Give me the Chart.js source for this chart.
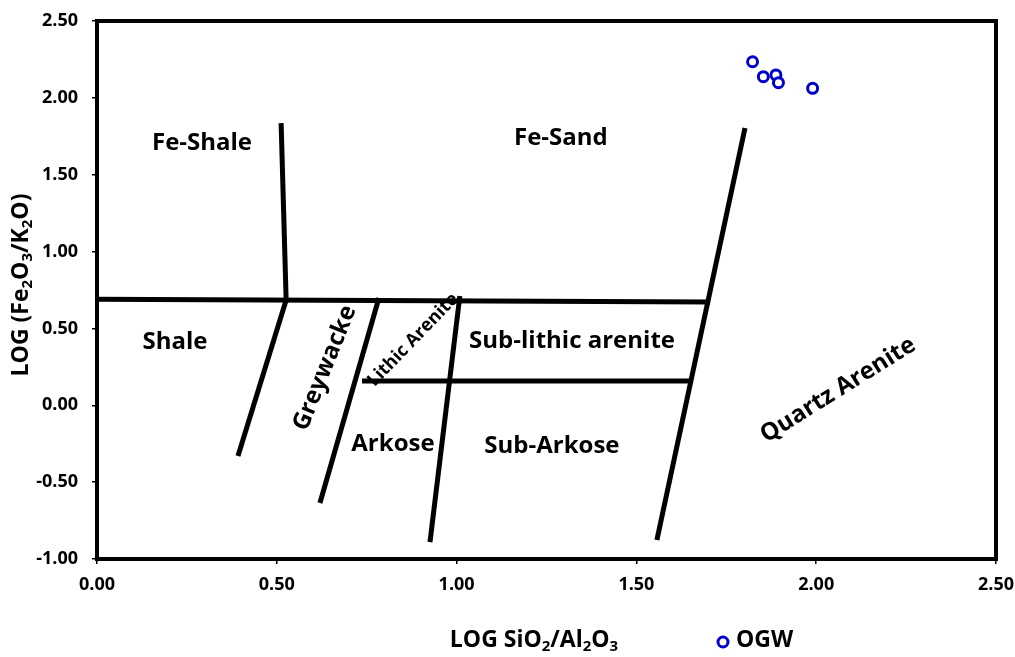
<!DOCTYPE html>
<html>
<head>
<meta charset="utf-8">
<script src="https://cdn.jsdelivr.net/npm/chart.js@4"></script>
<style>
  html, body { margin: 0; padding: 0; background: #fff; }
  #wrap { width: 1015px; height: 657px; }
</style>
</head>
<body>
<div id="wrap"><canvas id="chart" width="1015" height="657"></canvas></div>
<script>
// sample points (OGW)
const ogwX = [1.823, 1.853, 1.888, 1.895, 1.990];
const ogwY = [2.235, 2.138, 2.149, 2.099, 2.062];

// classification boundary lines, [x1, y1, x2, y2] in log units
const feShaleLine   = [0.512, 1.836, 0.526, 0.685];
const feLine        = [0.000, 0.690, 1.705, 0.672];
const shaleLine     = [0.526, 0.685, 0.392, -0.330];
const greywackeLine = [0.784, 0.698, 0.620, -0.636];
const lithicLine    = [1.009, 0.711, 0.926, -0.890];
const arkoseLine    = [0.737, 0.158, 1.649, 0.158];
const quartzLine    = [1.802, 1.804, 1.557, -0.877];
const boundaries = [feShaleLine, feLine, shaleLine, greywackeLine, lithicLine, arkoseLine, quartzLine];

// field names and where they sit (log units)
const fieldNames = ['Fe-Shale', 'Fe-Sand', 'Shale', 'Sub-lithic arenite', 'Quartz Arenite', 'Greywacke', 'Lithic Arenite', 'Arkose', 'Sub-Arkose'];
const fieldX = [0.292, 1.290, 0.217, 1.321, 2.061, 0.634, 0.879, 0.823, 1.265];
const fieldY = [1.706, 1.739, 0.412, 0.418, 0.099, 0.242, 0.425, -0.252, -0.265];
const fieldAngle = [0, 0, 0, 0, -32, -68, -46, 0, 0];
const fieldSize = [24, 24, 24, 24, 24, 24, 18, 24, 24];

const xTicks = [0, 0.5, 1, 1.5, 2, 2.5];
const yTicks = [-1, -0.5, 0, 0.5, 1, 1.5, 2, 2.5];

const FONT = '"Open Sans", Lato, sans-serif';

const lineSets = boundaries.map(b => ({
  type: 'scatter',
  data: [{ x: b[0], y: b[1] }, { x: b[2], y: b[3] }],
  showLine: true,
  borderColor: '#000',
  borderWidth: 5,
  pointRadius: 0,
  borderCapStyle: 'butt'
}));

// draws text pieces, some as subscripts, centred on cx
function drawRich(ctx, parts, cx, cy, size) {
  const sub = Math.round(size * 0.65);
  let total = 0;
  parts.forEach(p => {
    ctx.font = 'bold ' + (p.sub ? sub : size) + 'px ' + FONT;
    total += ctx.measureText(p.t).width;
  });
  let x = cx - total / 2;
  ctx.textAlign = 'left';
  ctx.textBaseline = 'middle';
  parts.forEach(p => {
    ctx.font = 'bold ' + (p.sub ? sub : size) + 'px ' + FONT;
    ctx.fillText(p.t, x, p.sub ? cy + size * 0.3 : cy);
    x += ctx.measureText(p.t).width;
  });
}

const decorations = {
  id: 'decorations',
  afterDatasetsDraw(chart) {
    const { ctx, chartArea: a, scales } = chart;
    ctx.save();
    ctx.fillStyle = '#000';
    // field names
    fieldNames.forEach((name, i) => {
      ctx.save();
      ctx.translate(scales.x.getPixelForValue(fieldX[i]), scales.y.getPixelForValue(fieldY[i]));
      ctx.rotate(fieldAngle[i] * Math.PI / 180);
      ctx.font = 'bold ' + fieldSize[i] + 'px ' + FONT;
      ctx.textAlign = 'center';
      ctx.textBaseline = 'middle';
      ctx.fillText(name, 0, 0);
      ctx.restore();
    });
    // frame
    ctx.strokeStyle = '#000';
    ctx.lineWidth = 4;
    ctx.strokeRect(a.left, a.top, a.right - a.left, a.bottom - a.top);
    // x title
    drawRich(ctx, [{ t: 'LOG SiO' }, { t: '2', sub: true }, { t: '/Al' }, { t: '2', sub: true }, { t: 'O' }, { t: '3', sub: true }], 534, 640, 23);
    // y title
    ctx.save();
    ctx.translate(21, 285);
    ctx.rotate(-Math.PI / 2);
    drawRich(ctx, [{ t: 'LOG (Fe' }, { t: '2', sub: true }, { t: 'O' }, { t: '3', sub: true }, { t: '/K' }, { t: '2', sub: true }, { t: 'O)' }], 0, 0, 23);
    ctx.restore();
    // legend
    ctx.beginPath();
    ctx.arc(723, 642, 5, 0, Math.PI * 2);
    ctx.strokeStyle = '#0000CC';
    ctx.lineWidth = 3;
    ctx.stroke();
    ctx.fillStyle = '#000';
    ctx.font = 'bold 23px ' + FONT;
    ctx.textAlign = 'left';
    ctx.textBaseline = 'middle';
    ctx.fillText('OGW', 736, 640);
    ctx.restore();
  }
};

new Chart(document.getElementById('chart'), {
  type: 'scatter',
  data: {
    datasets: [
      ...lineSets,
      {
        label: 'OGW',
        data: ogwX.map((x, i) => ({ x: x, y: ogwY[i] })),
        pointStyle: 'circle',
        pointRadius: 5,
        pointBorderWidth: 3,
        borderColor: '#0000CC',
        backgroundColor: '#fff',
        showLine: false
      }
    ]
  },
  options: {
    responsive: false,
    animation: false,
    layout: { padding: { left: 0, right: 19, top: 21, bottom: 0 } },
    plugins: { legend: { display: false }, tooltip: { enabled: false } },
    scales: {
      x: {
        type: 'linear',
        min: 0, max: 2.5,
        afterBuildTicks: s => { s.ticks = xTicks.map(v => ({ value: v })); },
        afterFit: s => { s.height = 98; s.paddingLeft = 0; s.paddingRight = 0; },
        grid: { drawOnChartArea: false, drawTicks: true, tickLength: 5, color: '#000', lineWidth: 1.5 },
        border: { display: false },
        ticks: {
          color: '#000', padding: 10, maxRotation: 0,
          font: { family: FONT, size: 18, weight: 'bold' },
          callback: v => v.toFixed(2)
        }
      },
      y: {
        type: 'linear',
        min: -1, max: 2.5,
        afterBuildTicks: s => { s.ticks = yTicks.map(v => ({ value: v })); },
        afterFit: s => { s.width = 97; s.paddingTop = 0; s.paddingBottom = 0; },
        grid: { drawOnChartArea: false, drawTicks: true, tickLength: 5, color: '#000', lineWidth: 1.5 },
        border: { display: false },
        ticks: {
          color: '#000', padding: 14,
          font: { family: FONT, size: 18, weight: 'bold' },
          callback: v => v.toFixed(2)
        }
      }
    }
  },
  plugins: [decorations]
});
</script>
</body>
</html>
